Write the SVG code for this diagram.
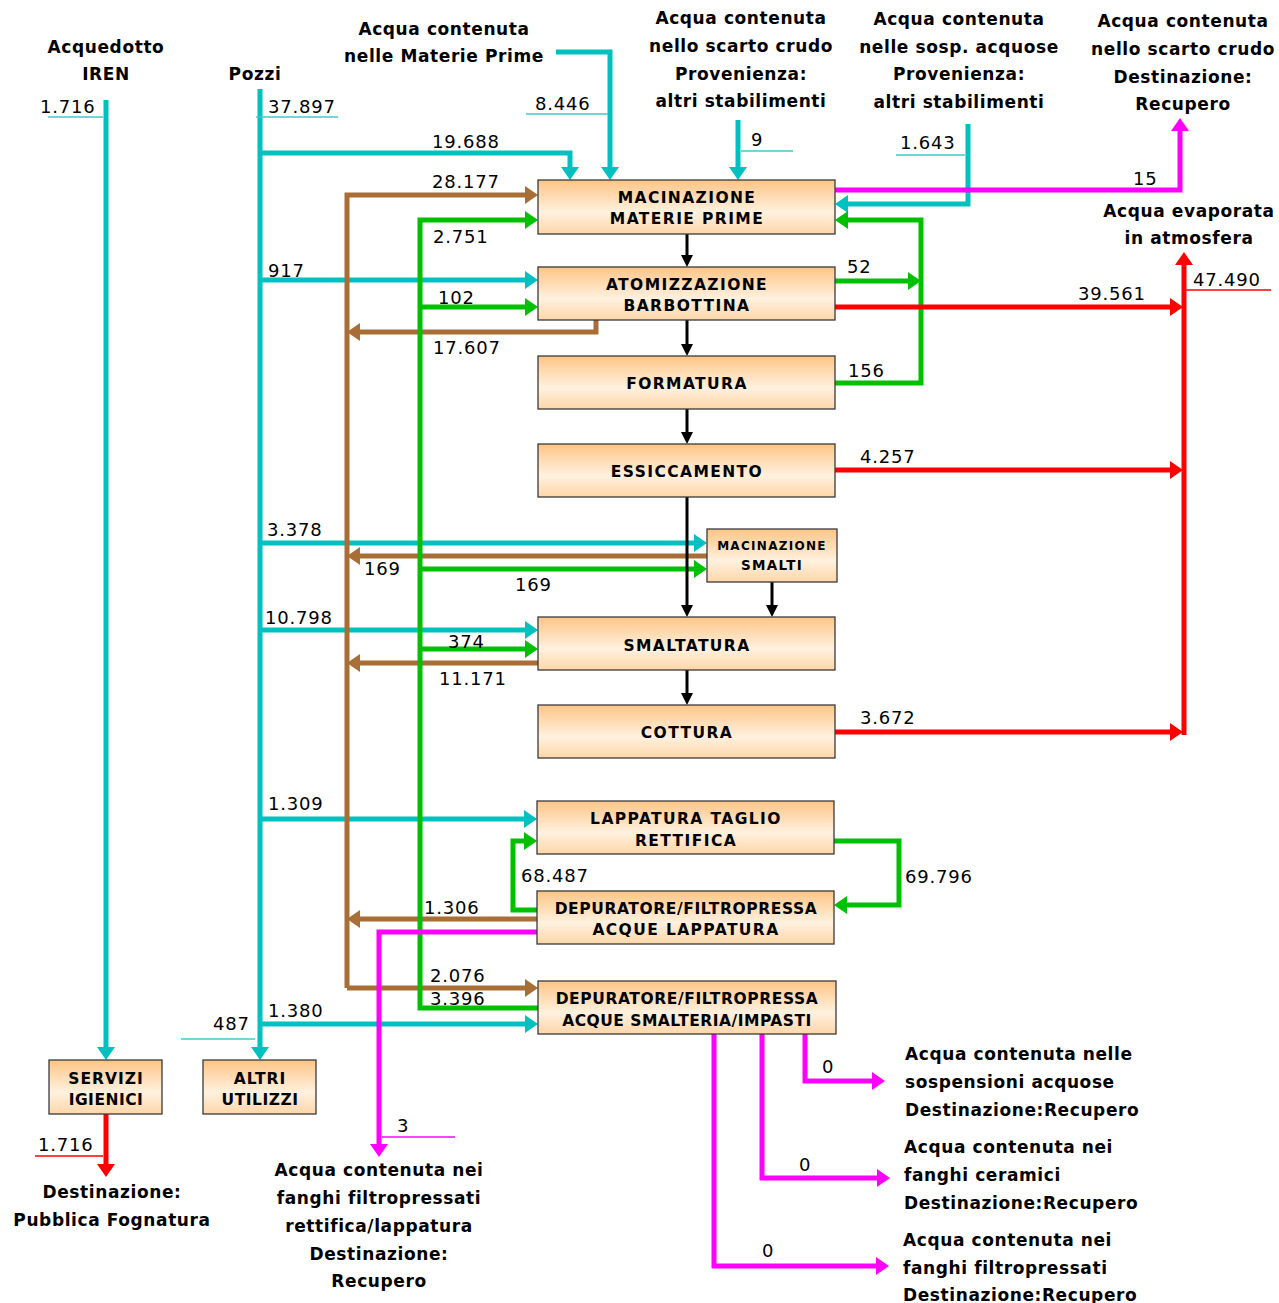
<svg xmlns="http://www.w3.org/2000/svg" width="1279" height="1303" viewBox="0 0 1279 1303">
<style>
.t{font-family:"DejaVu Sans","Liberation Sans",sans-serif;font-weight:bold;font-size:17px;letter-spacing:0.6px;fill:#000}
.n{font-family:"DejaVu Sans","Liberation Sans",sans-serif;font-size:18px;letter-spacing:0.8px;fill:#000}
.b{font-family:"DejaVu Sans","Liberation Sans",sans-serif;font-weight:bold;font-size:15.5px;letter-spacing:1.4px;fill:#000;text-anchor:middle}
.bs{font-family:"DejaVu Sans","Liberation Sans",sans-serif;font-weight:bold;font-size:12px;letter-spacing:1.3px;fill:#000;text-anchor:middle}
.box{fill:url(#g);stroke:#3a3a3a;stroke-width:1.3}
.c{fill:none;stroke:#00C0C0;stroke-width:5}
.gr{fill:none;stroke:#00C000;stroke-width:5}
.br{fill:none;stroke:#A86E36;stroke-width:5}
.rd{fill:none;stroke:#FF0000;stroke-width:5}
.mg{fill:none;stroke:#FF00FF;stroke-width:5}
.bk{fill:none;stroke:#000;stroke-width:3}
.u{stroke-width:1.5;fill:none}
</style>
<defs>
<linearGradient id="g" x1="0" y1="0" x2="0" y2="1">
<stop offset="0" stop-color="#FFC586"/>
<stop offset="0.6" stop-color="#FFF1DF"/>
<stop offset="1" stop-color="#FFD6A8"/>
</linearGradient>
<marker id="ac" markerUnits="userSpaceOnUse" markerWidth="14" markerHeight="18" refX="1" refY="9" orient="auto"><path d="M0,0 L13,9 L0,18 z" fill="#00C0C0"/></marker>
<marker id="ag" markerUnits="userSpaceOnUse" markerWidth="14" markerHeight="18" refX="1" refY="9" orient="auto"><path d="M0,0 L13,9 L0,18 z" fill="#00C000"/></marker>
<marker id="ab" markerUnits="userSpaceOnUse" markerWidth="14" markerHeight="18" refX="1" refY="9" orient="auto"><path d="M0,0 L13,9 L0,18 z" fill="#A86E36"/></marker>
<marker id="ar" markerUnits="userSpaceOnUse" markerWidth="14" markerHeight="18" refX="1" refY="9" orient="auto"><path d="M0,0 L13,9 L0,18 z" fill="#FF0000"/></marker>
<marker id="am" markerUnits="userSpaceOnUse" markerWidth="14" markerHeight="18" refX="1" refY="9" orient="auto"><path d="M0,0 L13,9 L0,18 z" fill="#FF00FF"/></marker>
<marker id="ak" markerUnits="userSpaceOnUse" markerWidth="12" markerHeight="12" refX="1" refY="6" orient="auto"><path d="M0,0 L12,6 L0,12 z" fill="#000"/></marker>
</defs>
<rect width="1279" height="1303" fill="#fff"/>
<g id="connectors">
<!-- cyan -->
<path class="c" d="M106,100 V1048" stroke-width="6" marker-end="url(#ac)"/>
<path class="c" d="M260,89 V1048" stroke-width="6" marker-end="url(#ac)"/>
<path class="c" d="M260,153 H570 V168" marker-end="url(#ac)"/>
<path class="c" d="M556,52 H610 V168" marker-end="url(#ac)"/>
<path class="c" d="M738,120 V168" marker-end="url(#ac)"/>
<path class="c" d="M968,124 V204 H847" marker-end="url(#ac)"/>
<path class="c" d="M260,280 H526" marker-end="url(#ac)"/>
<path class="c" d="M260,543 H695" marker-end="url(#ac)"/>
<path class="c" d="M260,630 H526" marker-end="url(#ac)"/>
<path class="c" d="M260,819 H525" marker-end="url(#ac)"/>
<path class="c" d="M260,1024 H526" marker-end="url(#ac)"/>
<g stroke="#40C8C8" class="u">
<path d="M48,117 H103"/><path d="M256,117 H338"/><path d="M526,114 H608"/><path d="M741,151 H793"/><path d="M896,155 H965"/><path d="M181,1039 H255"/>
</g>
<!-- brown -->
<path class="br" d="M347,988 V195 H526" marker-end="url(#ab)"/>
<path class="br" d="M347,988 H526" marker-end="url(#ab)"/>
<path class="br" d="M596,320 V332 H359" marker-end="url(#ab)"/>
<path class="br" d="M707,556 H359" marker-end="url(#ab)"/>
<path class="br" d="M538,663 H359" marker-end="url(#ab)"/>
<path class="br" d="M537,919 H359" marker-end="url(#ab)"/>
<!-- green -->
<path class="gr" d="M538,1008 H420 V220 H526" marker-end="url(#ag)"/>
<path class="gr" d="M420,307 H526" marker-end="url(#ag)"/>
<path class="gr" d="M420,569 H695" marker-end="url(#ag)"/>
<path class="gr" d="M420,649 H526" marker-end="url(#ag)"/>
<path class="gr" d="M835,281 H909" marker-end="url(#ag)"/>
<path class="gr" d="M835,383 H921 V220 H847" marker-end="url(#ag)"/>
<path class="gr" d="M834,841 H899 V905 H846" marker-end="url(#ag)"/>
<path class="gr" d="M537,910 H513 V841 H525" marker-end="url(#ag)"/>
<!-- red -->
<path class="rd" d="M835,307 H1171" marker-end="url(#ar)"/>
<path class="rd" d="M835,470 H1171" marker-end="url(#ar)"/>
<path class="rd" d="M835,732 H1171" marker-end="url(#ar)"/>
<path class="rd" d="M1184,735 V264" stroke-width="6" marker-end="url(#ar)"/>
<path class="rd" d="M106,1114 V1165" stroke-width="6" marker-end="url(#ar)"/>
<g stroke="#FF0000" class="u"><path d="M1186,290 H1271"/><path d="M35,1156 H103"/></g>
<!-- magenta -->
<path class="mg" d="M835,190 H1180 V130" marker-end="url(#am)"/>
<path class="mg" d="M537,932 H379 V1145" marker-end="url(#am)"/>
<path class="mg" d="M805,1034 V1081 H873" marker-end="url(#am)"/>
<path class="mg" d="M762,1034 V1178 H878" marker-end="url(#am)"/>
<path class="mg" d="M714,1034 V1266 H877" marker-end="url(#am)"/>
<path stroke="#FF00FF" class="u" d="M382,1137 H455"/>
<!-- black -->
<path class="bk" d="M687,234 V256" marker-end="url(#ak)"/>
<path class="bk" d="M687,320 V345" marker-end="url(#ak)"/>
<path class="bk" d="M687,409 V433" marker-end="url(#ak)"/>
<path class="bk" d="M687,497 V606" marker-end="url(#ak)"/>
<path class="bk" d="M772,582 V606" marker-end="url(#ak)"/>
<path class="bk" d="M687,670 V694" marker-end="url(#ak)"/>
</g>
<g id="flow-labels">
<text class="n" x="40" y="113">1.716</text>
<text class="n" x="268" y="113">37.897</text>
<text class="n" x="432" y="148">19.688</text>
<text class="n" x="535" y="110">8.446</text>
<text class="n" x="751" y="146">9</text>
<text class="n" x="900" y="149">1.643</text>
<text class="n" x="1133" y="185">15</text>
<text class="n" x="432" y="188">28.177</text>
<text class="n" x="433" y="243">2.751</text>
<text class="n" x="268" y="277">917</text>
<text class="n" x="438" y="304">102</text>
<text class="n" x="433" y="354">17.607</text>
<text class="n" x="847" y="273">52</text>
<text class="n" x="848" y="377">156</text>
<text class="n" x="1078" y="300">39.561</text>
<text class="n" x="1193" y="286">47.490</text>
<text class="n" x="860" y="463">4.257</text>
<text class="n" x="267" y="536">3.378</text>
<text class="n" x="364" y="575">169</text>
<text class="n" x="515" y="591">169</text>
<text class="n" x="265" y="624">10.798</text>
<text class="n" x="448" y="648">374</text>
<text class="n" x="439" y="685">11.171</text>
<text class="n" x="860" y="724">3.672</text>
<text class="n" x="268" y="810">1.309</text>
<text class="n" x="521" y="882">68.487</text>
<text class="n" x="905" y="883">69.796</text>
<text class="n" x="424" y="914">1.306</text>
<text class="n" x="430" y="982">2.076</text>
<text class="n" x="430" y="1005">3.396</text>
<text class="n" x="268" y="1017">1.380</text>
<text class="n" x="213" y="1030">487</text>
<text class="n" x="38" y="1151">1.716</text>
<text class="n" x="397" y="1132">3</text>
<text class="n" x="822" y="1073">0</text>
<text class="n" x="799" y="1171">0</text>
<text class="n" x="762" y="1257">0</text>
</g>
<g id="titles" text-anchor="middle">
<text class="t" x="106" y="53">Acquedotto</text>
<text class="t" x="106" y="80">IREN</text>
<text class="t" x="255" y="80">Pozzi</text>
<text class="t" x="444" y="35">Acqua contenuta</text>
<text class="t" x="444" y="62">nelle Materie Prime</text>
<text class="t" x="741" y="24">Acqua contenuta</text>
<text class="t" x="741" y="52">nello scarto crudo</text>
<text class="t" x="741" y="80">Provenienza:</text>
<text class="t" x="741" y="107">altri stabilimenti</text>
<text class="t" x="959" y="25">Acqua contenuta</text>
<text class="t" x="959" y="53">nelle sosp. acquose</text>
<text class="t" x="959" y="80">Provenienza:</text>
<text class="t" x="959" y="108">altri stabilimenti</text>
<text class="t" x="1183" y="27">Acqua contenuta</text>
<text class="t" x="1183" y="55">nello scarto crudo</text>
<text class="t" x="1183" y="83">Destinazione:</text>
<text class="t" x="1183" y="110">Recupero</text>
<text class="t" x="1189" y="217">Acqua evaporata</text>
<text class="t" x="1189" y="244">in atmosfera</text>
<text class="t" x="112" y="1198">Destinazione:</text>
<text class="t" x="112" y="1226">Pubblica Fognatura</text>
<text class="t" x="379" y="1176">Acqua contenuta nei</text>
<text class="t" x="379" y="1204">fanghi filtropressati</text>
<text class="t" x="379" y="1232">rettifica/lappatura</text>
<text class="t" x="379" y="1260">Destinazione:</text>
<text class="t" x="379" y="1287">Recupero</text>
</g>
<g id="outputs-right">
<text class="t" x="905" y="1060">Acqua contenuta nelle</text>
<text class="t" x="905" y="1088">sospensioni acquose</text>
<text class="t" x="905" y="1116">Destinazione:Recupero</text>
<text class="t" x="904" y="1153">Acqua contenuta nei</text>
<text class="t" x="904" y="1181">fanghi ceramici</text>
<text class="t" x="904" y="1209">Destinazione:Recupero</text>
<text class="t" x="903" y="1246">Acqua contenuta nei</text>
<text class="t" x="903" y="1274">fanghi filtropressati</text>
<text class="t" x="903" y="1301">Destinazione:Recupero</text>
</g>
<g id="macinazione-mp"><rect class="box" x="538" y="180" width="297" height="54"/><text class="b" x="687" y="203">MACINAZIONE</text><text class="b" x="687" y="224">MATERIE PRIME</text></g>
<g id="atomizzazione"><rect class="box" x="538" y="267" width="297" height="53"/><text class="b" x="687" y="290">ATOMIZZAZIONE</text><text class="b" x="687" y="311">BARBOTTINA</text></g>
<g id="formatura"><rect class="box" x="538" y="356" width="297" height="53"/><text class="b" x="687" y="389">FORMATURA</text></g>
<g id="essiccamento"><rect class="box" x="538" y="444" width="297" height="53"/><text class="b" x="687" y="477">ESSICCAMENTO</text></g>
<g id="macinazione-smalti"><rect class="box" x="707" y="529" width="130" height="53"/><text class="bs" x="772" y="550">MACINAZIONE</text><text class="bs" x="772" y="570" style="font-size:13.5px">SMALTI</text></g>
<g id="smaltatura"><rect class="box" x="538" y="617" width="297" height="53"/><text class="b" x="687" y="651">SMALTATURA</text></g>
<g id="cottura"><rect class="box" x="538" y="705" width="297" height="53"/><text class="b" x="687" y="738">COTTURA</text></g>
<g id="lappatura"><rect class="box" x="537" y="801" width="297" height="53"/><text class="b" x="686" y="824">LAPPATURA TAGLIO</text><text class="b" x="686" y="846">RETTIFICA</text></g>
<g id="depuratore-lappatura"><rect class="box" x="537" y="891" width="297" height="53"/><text class="b" x="686" y="914" style="letter-spacing:0.6px">DEPURATORE/FILTROPRESSA</text><text class="b" x="686" y="935">ACQUE LAPPATURA</text></g>
<g id="depuratore-smalteria"><rect class="box" x="538" y="981" width="298" height="53"/><text class="b" x="687" y="1004" style="letter-spacing:0.6px">DEPURATORE/FILTROPRESSA</text><text class="b" x="687" y="1026" style="letter-spacing:0.5px">ACQUE SMALTERIA/IMPASTI</text></g>
<g id="servizi-igienici"><rect class="box" x="49" y="1060" width="113" height="54"/><text class="b" x="106" y="1084" style="letter-spacing:1px">SERVIZI</text><text class="b" x="106" y="1105" style="letter-spacing:0.5px">IGIENICI</text></g>
<g id="altri-utilizzi"><rect class="box" x="203" y="1060" width="113" height="54"/><text class="b" x="260" y="1084" style="letter-spacing:1px">ALTRI</text><text class="b" x="260" y="1105" style="letter-spacing:0.5px">UTILIZZI</text></g>
</svg>
